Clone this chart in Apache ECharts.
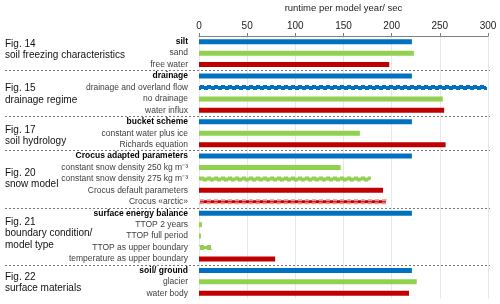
<!DOCTYPE html>
<html><head><meta charset="utf-8">
<script src="https://cdn.jsdelivr.net/npm/echarts@6/dist/echarts.min.js"></script>
<style>html,body{margin:0;padding:0;background:#fff}#c{width:500px;height:304px}</style>
</head><body><div id="c"></div>
<script>
const categories = ['silt','sand','free water',
  'drainage','drainage and overland flow','no drainage','water influx',
  'bucket scheme','constant water plus ice','Richards equation',
  'Crocus adapted parameters','constant snow density 250 kg m\u207B\u00B3','constant snow density 275 kg m\u207B\u00B3','Crocus default parameters','Crocus \u00ABarctic\u00BB',
  'surface energy balance','TTOP 2 years','TTOP full period','TTOP as upper boundary','temperature as upper boundary',
  'soil/ ground','glacier','water body'];
const runtimes = [221,223,197.5, 221,299,253,254.5, 221,167,256, 221,147,178.5,191,195, 221,3,2,13.5,79, 221,226,218];
const rowKind = ['ref','alt1','alt2', 'ref','ref','alt1','alt2', 'ref','alt1','alt2', 'ref','alt1','alt1','alt2','alt2', 'ref','alt1','alt1','alt1','alt2', 'ref','alt1','alt2'];
const wavyRows = [4,12,14,18];
const headerRows = [0,3,7,10,15,20];
const groupSizes = [3,4,3,5,5,3];
const figLabels = [['Fig. 14','soil freezing characteristics'],['Fig. 15','drainage regime'],['Fig. 17','soil hydrology'],['Fig. 20','snow model'],['Fig. 21','boundary condition/','model type'],['Fig. 22','surface materials']];
const figRowAnchor = [0.1,4.0,7.65,11.4,15.7,20.5];

const colors = {ref:'#0070C0', alt1:'#92D050', alt2:'#C00000'};
const waveColors = {ref:'#0070C0', alt1:'#92D050', alt2:'#E89090'};
const font = '"Liberation Sans", Arial, sans-serif';
const chart = echarts.init(document.getElementById('c'));
chart.setOption({
  animation:false,
  grid:{left:199,right:12,top:36,bottom:5,outerBoundsMode:'none',containLabel:false},
  xAxis:{type:'value',position:'top',min:0,max:300,interval:50,
    name:'runtime per model year/ sec',nameLocation:'middle',nameGap:23,
    nameTextStyle:{fontSize:9.5,color:'#222',fontFamily:font},
    axisLine:{show:true,lineStyle:{color:'#808080'}},
    axisTick:{show:true,length:3,lineStyle:{color:'#808080'}},
    axisLabel:{fontSize:10,color:'#222',margin:5,fontFamily:font},
    splitLine:{show:true,lineStyle:{color:'#e8e8e8'}}},
  yAxis:{type:'category',inverse:true,data:categories,
    axisLine:{show:false},axisTick:{show:false},splitLine:{show:false},
    axisLabel:{margin:11,fontSize:8.5,color:'#404040',fontFamily:font,interval:0,
      formatter:(v,i)=>headerRows.includes(i)?'{h|'+v+'}':v,
      rich:{h:{fontWeight:'bold',color:'#000',fontSize:8.5,fontFamily:font}}}},
  series:[{type:'bar',barWidth:5,
    data:runtimes.map((v,i)=>{
      const k=rowKind[i];
      const st={color:colors[k]};
      if(wavyRows.includes(i)){st.borderColor=waveColors[k];st.borderWidth=2;st.borderType=[4,3];}
      return {value:v,itemStyle:st};
    })}]
});
const y0 = chart.convertToPixel({yAxisIndex:0}, 0);
const y1 = chart.convertToPixel({yAxisIndex:0}, 1);
const step = y1-y0;
const yAt = r => y0 + step*r;
const xEnd = chart.convertToPixel({xAxisIndex:0}, 300) + 2;
const graphics = [];
let start = 0;
groupSizes.forEach((n,gi)=>{
  const endRow = start + n - 1;
  if(gi < groupSizes.length-1){
    const y = Math.round(yAt(endRow+0.5))+0.5;
    graphics.push({type:'line',shape:{x1:5,y1:y,x2:xEnd,y2:y},style:{stroke:'#777',lineWidth:1,lineDash:[2,2]},silent:true});
  }
  figLabels[gi].forEach((t,li)=>{
    graphics.push({type:'text',x:5,y:yAt(figRowAnchor[gi])+li*11.5-4,
      style:{text:t,fontSize:10,fill:'#111',fontFamily:font,verticalAlign:'top'}});
  });
  start += n;
});
chart.setOption({graphic:graphics});
</script></body></html>
